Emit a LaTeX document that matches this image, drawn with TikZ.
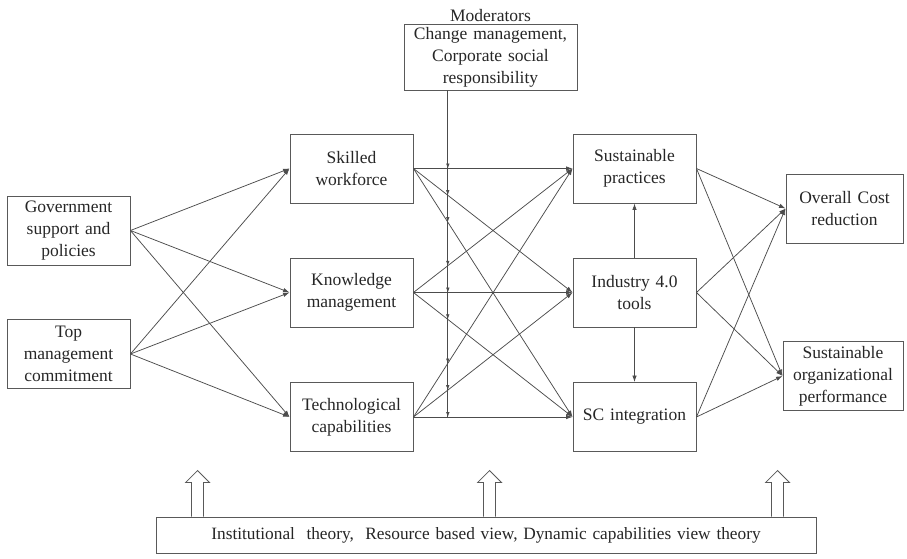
\documentclass[tikz,border=0pt]{standalone}
\usepackage{fontspec}
\setmainfont{Liberation Serif}
\usetikzlibrary{arrows.meta,calc}
\begin{document}
\begin{tikzpicture}[x=1pt,y=-1pt,
  font=\fontsize{17.5}{22}\selectfont,
  every node/.style={text=black!85},
  bx/.style={draw=black!65, line width=0.9pt, inner xsep=0pt, inner ysep=0pt,
             text width=#1, align=center, minimum height=69pt},
  link/.style={draw=black!70, line width=0.75pt, -{Latex[length=6.5pt,width=4.5pt]}},
  modline/.style={draw=black!70, line width=0.75pt},
  modtip/.style={draw=black!70, line width=0.6pt, -{Latex[length=5pt,width=3.5pt]}},
  hollow/.style={draw=black!65, line width=0.8pt, fill=white}
]
\useasboundingbox (0,0) rectangle (907,559);

% drivers
\node[bx=123pt] (gov) at (68.5,230.5) {Government\\support and\\policies};
\node[bx=123pt] (top) at (68.5,354) {Top\\management\\commitment};

% enablers
\node[bx=123pt] (skill) at (351.5,168.5) {Skilled\\workforce};
\node[bx=123pt] (know) at (351.5,292.5) {Knowledge\\management};
\node[bx=123pt] (tech) at (351.5,417) {Technological\\capabilities};

% practices
\node[bx=123pt] (sust) at (634.5,168.5) {Sustainable\\practices};
\node[bx=123pt] (ind) at (634.5,292.5) {Industry 4.0\\tools};
\node[bx=123pt] (sc) at (634.5,417) {SC integration};

% outcomes
\node[bx=117pt] (cost) at (844.5,208.5) {Overall Cost\\reduction};
\node[bx=120pt] (sop) at (843,376) {Sustainable\\organizational\\performance};

% moderators
\node[bx=173pt, minimum height=66pt] (mod) at (490.5,57)
  {Change management,\\Corporate social\\responsibility};
\node[anchor=south, inner sep=2pt] (modlbl) at (mod.north) {Moderators};

% theoretical base
\node[bx=660pt, minimum height=36pt, font=\fontsize{17.3}{20}\selectfont] (theory) at (486,535)
  {Institutional\ \ theory,\ \ Resource based view, Dynamic capabilities view theory};

% links
\foreach \s in {gov,top}
  \foreach \t in {skill,know,tech}
    \draw[link] (\s.east) -- (\t.west);
\foreach \s in {skill,know,tech}
  \foreach \t in {sust,ind,sc}
    \draw[link] (\s.east) -- (\t.west);
\foreach \s in {sust,ind,sc}
  \foreach \t in {cost,sop}
    \draw[link] (\s.east) -- (\t.west);
\draw[link] (ind) -- (sust);
\draw[link] (ind) -- (sc);

% moderating line with a tip on every crossed link
\coordinate (mtop) at ($(mod.south west)!0.254!(mod.south east)$);
\coordinate (mbot) at (mtop |- tech.east);
\draw[modline] (mtop) -- (mbot);
\foreach \s in {skill,know,tech}
  \foreach \t in {sust,ind,sc} {
    \coordinate (X) at (intersection of \s.east--\t.west and mtop--mbot);
    \draw[modtip] ($(X)+(0,-5)$) -- (X);
  }

% hollow arrows rising from the theory box
\foreach \dx in {42,334,622}
  \draw[hollow] ($(theory.north west)+(\dx-6,0)$) -- ++(0,-34) -- ++(-6,0)
    -- ++(12,-12) -- ++(12,12) -- ++(-6,0) -- ++(0,34);
\end{tikzpicture}
\end{document}
